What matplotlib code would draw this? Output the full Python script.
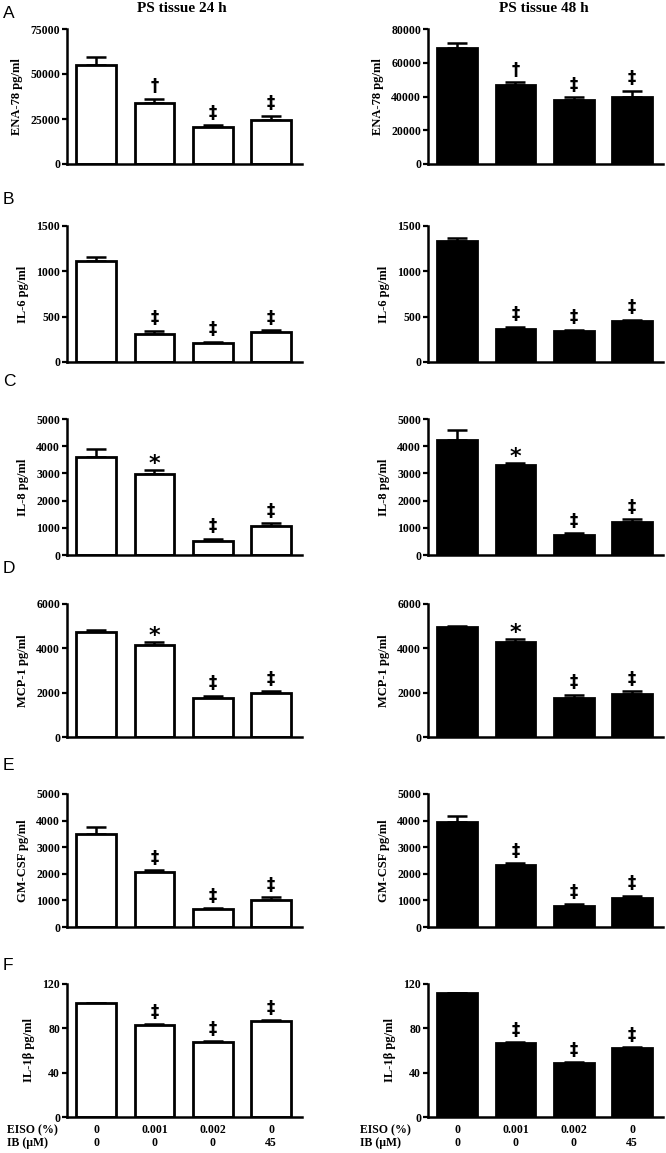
import numpy as np
import matplotlib as mpl
import matplotlib.pyplot as plt

mpl.use('agg')

plt.rcParams['font.family'] = ['Liberation Serif', 'DejaVu Serif']
plt.rcParams['font.weight'] = 'bold'

# x conditions
eiso = ['0', '0.001', '0.002', '0']
ib = ['0', '0', '0', '45']

# panel A: ENA-78
ena78_24 = [55000, 33700, 20550, 24600]
ena78_24_err = [4300, 2600, 950, 2100]
ena78_48 = [68900, 47000, 38100, 39900]
ena78_48_err = [2600, 1600, 1600, 3400]
sig_ena78 = ['', '\u2020', '\u2021', '\u2021']

# panel B: IL-6
il6_24 = [1117, 305, 210, 327]
il6_24_err = [41, 40, 14, 26]
il6_48 = [1335, 367, 342, 449]
il6_48_err = [36, 22, 14, 18]
sig_il6 = ['', '\u2021', '\u2021', '\u2021']

# panel C: IL-8
il8_24 = [3614, 2990, 526, 1066]
il8_24_err = [272, 146, 74, 99]
il8_48 = [4228, 3309, 735, 1202]
il8_48_err = [357, 85, 74, 122]
sig_il8 = ['', '*', '\u2021', '\u2021']

# panel D: MCP-1
mcp1_24 = [4750, 4150, 1773, 1970]
mcp1_24_err = [77, 150, 91, 105]
mcp1_48 = [4942, 4296, 1763, 1944]
mcp1_48_err = [48, 121, 136, 122]
sig_mcp1 = ['', '*', '\u2021', '\u2021']

# panel E: GM-CSF
gmcsf_24 = [3496, 2068, 665, 1028]
gmcsf_24_err = [263, 62, 38, 87]
gmcsf_48 = [3947, 2331, 802, 1090]
gmcsf_48_err = [226, 75, 50, 88]
sig_gmcsf = ['', '\u2021', '\u2021', '\u2021']

# panel F: IL-1beta
il1b_24 = [102.6, 83.3, 67.7, 86.9]
il1b_24_err = [0.6, 0.5, 0.6, 0.6]
il1b_48 = [111.9, 66.8, 49.0, 62.5]
il1b_48_err = [0.4, 0.5, 0.4, 0.5]
sig_il1b = ['', '\u2021', '\u2021', '\u2021']

panels = [
    ('A', 'ENA-78 pg/ml', [0, 25000, 50000, 75000], [0, 20000, 40000, 60000, 80000],
     ena78_24, ena78_24_err, ena78_48, ena78_48_err, sig_ena78),
    ('B', 'IL-6 pg/ml', [0, 500, 1000, 1500], [0, 500, 1000, 1500],
     il6_24, il6_24_err, il6_48, il6_48_err, sig_il6),
    ('C', 'IL-8 pg/ml', [0, 1000, 2000, 3000, 4000, 5000], [0, 1000, 2000, 3000, 4000, 5000],
     il8_24, il8_24_err, il8_48, il8_48_err, sig_il8),
    ('D', 'MCP-1 pg/ml', [0, 2000, 4000, 6000], [0, 2000, 4000, 6000],
     mcp1_24, mcp1_24_err, mcp1_48, mcp1_48_err, sig_mcp1),
    ('E', 'GM-CSF pg/ml', [0, 1000, 2000, 3000, 4000, 5000], [0, 1000, 2000, 3000, 4000, 5000],
     gmcsf_24, gmcsf_24_err, gmcsf_48, gmcsf_48_err, sig_gmcsf),
    ('F', 'IL-1\u03b2 pg/ml', [0, 40, 80, 120], [0, 40, 80, 120],
     il1b_24, il1b_24_err, il1b_48, il1b_48_err, sig_il1b),
]

W, H = 666, 1153
fig = plt.figure(figsize=(W / 100, H / 100), dpi=100)

# pixel geometry of the axes (top, bottom) per row and (left, right) per column
rows = [(29, 164), (226, 362), (419, 555), (604, 737), (794, 927), (984, 1117)]
cols = [(67, 302), (428, 663)]
letter_y = [14, 199, 382, 569, 765, 966]


def px_axes(l, r, t, b):
    return fig.add_axes([l / W, 1 - b / H, (r - l) / W, (b - t) / H])


def draw(ax, vals, errs, ticks, ylabel, sig, color):
    x = np.arange(len(vals))
    ax.bar(x, vals, width=0.68, color=color, edgecolor='black', linewidth=2.0, zorder=2)
    ax.errorbar(x, vals, yerr=[np.zeros(len(errs)), errs], fmt='none',
                ecolor='black', elinewidth=1.8, capsize=7.5, capthick=1.8, zorder=1)
    for xi, v, e, s in zip(x, vals, errs, sig):
        if s:
            ax.annotate(s, (xi, v + e), xytext=(0, 2.5 if s != '*' else -3),
                        textcoords='offset points', ha='center', va='bottom',
                        fontsize=16 if s == '*' else 12, fontweight='bold',
                        family='DejaVu Sans')
    ax.set_xlim(-0.5, 3.53)
    ax.set_ylim(0, ticks[-1])
    ax.set_yticks(ticks)
    ax.set_xticks([])
    ax.tick_params(axis='y', direction='out', length=3.5, width=1.6, labelsize=8.5, pad=1.5)
    for sp in ['top', 'right']:
        ax.spines[sp].set_visible(False)
    for sp in ['left', 'bottom']:
        ax.spines[sp].set_linewidth(1.8)
    ax.set_ylabel(ylabel, fontsize=9, fontweight='bold', labelpad=5)
    for lab in ax.get_yticklabels():
        lab.set_fontweight('bold')


for i, (letter, ylabel, t24, t48, v24, e24, v48, e48, sig) in enumerate(panels):
    top, bot = rows[i]
    axl = px_axes(cols[0][0], cols[0][1], top, bot)
    axr = px_axes(cols[1][0], cols[1][1], top, bot)
    draw(axl, v24, e24, t24, ylabel, sig, 'white')
    draw(axr, v48, e48, t48, ylabel, sig, 'black')
    fig.text(3 / W, 1 - letter_y[i] / H, letter, family='Liberation Sans',
             fontweight='normal', fontsize=12.5, va='center', ha='left')

# condition labels below the last row
for ax, x_lab in [(axl, 7), (axr, 360)]:
    trans = ax.get_xaxis_transform()
    for j, (a, b) in enumerate(zip(eiso, ib)):
        ax.text(j, -0.098, a, transform=trans, ha='center', va='center', fontsize=8.5,
                fontweight='bold')
        ax.text(j, -0.195, b, transform=trans, ha='center', va='center', fontsize=8.5,
                fontweight='bold')
    fig.text(x_lab / W, 1 - 1130 / H, 'EISO (%)', ha='left', va='center', fontsize=8.5,
             fontweight='bold')
    fig.text(x_lab / W, 1 - 1143 / H, 'IB (\u03bcM)', ha='left', va='center', fontsize=8.5,
             fontweight='bold')

fig.text(182 / W, 1 - 8 / H, 'PS tissue 24 h', ha='center', va='center', fontsize=11,
         fontweight='bold')
fig.text(544 / W, 1 - 8 / H, 'PS tissue 48 h', ha='center', va='center', fontsize=11,
         fontweight='bold')

plt.savefig('out.png', dpi=100)
